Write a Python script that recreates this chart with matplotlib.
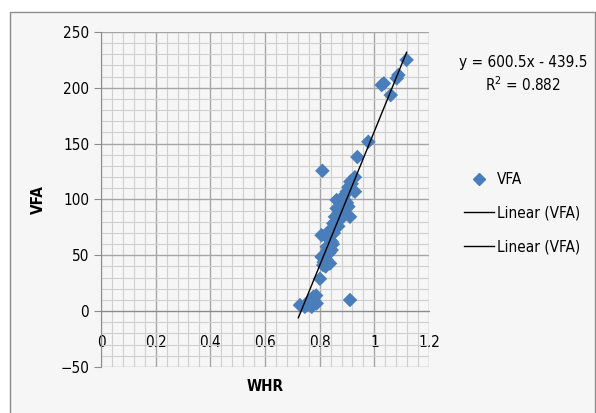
import matplotlib.pyplot as plt
import numpy as np
from matplotlib.patches import Rectangle
from matplotlib.lines import Line2D

plt.rcParams['font.family'] = ['DejaVu Sans']
plt.rcParams['font.stretch'] = 'condensed'

# WHR vs VFA readings
whr = [1.118, 1.088, 1.082, 1.035, 1.027, 1.060, 0.978, 0.938, 0.810,
       0.929, 0.917, 0.905, 0.899, 0.929, 0.887, 0.862, 0.905, 0.862,
       0.893, 0.911, 0.856, 0.850, 0.838, 0.807, 0.826, 0.838, 0.826,
       0.844, 0.807, 0.826, 0.813, 0.838, 0.801, 0.911, 0.777, 0.759,
       0.789, 0.728, 0.746, 0.771, 0.880, 0.870, 0.875, 0.890, 0.868,
       0.852, 0.845, 0.835, 0.820, 0.815, 0.895, 0.900, 0.912, 0.880,
       0.858, 0.848, 0.830, 0.822, 0.787, 0.765]
vfa = [225, 211.5, 208.5, 204, 202.5, 193.5, 151.7, 138, 125.7,
       120, 114, 111, 107, 107, 102.6, 99.5, 93.6, 92,
       87.5, 84.5, 84.5, 78.6, 72.6, 68, 66.6, 63.6, 57.6,
       54.7, 48.7, 45.7, 41.2, 42.7, 29, 10, 12.8, 8.3,
       6.9, 5.4, 3.9, 3.9, 96, 88, 82, 100, 76,
       70, 62, 52, 50, 44, 105, 97, 116, 90,
       80, 60, 55, 40, 14, 10]

slope, intercept = 600.5, -439.5
fit_x = np.array([0.722, 1.118])

fig = plt.figure(figsize=(5.96, 4.13), dpi=100)
fig.patches.append(Rectangle((10/596, -0.01), 585/596, (413-12)/413 + 0.01,
                             transform=fig.transFigure, facecolor='#f6f6f6',
                             edgecolor='#8c8c8c', linewidth=1.0, zorder=-1))

ax = fig.add_axes([101/596, 1 - 367/413, 328/596, 335/413])
ax.set_facecolor('#f6f6f6')

ax.set_xlim(0, 1.2)
ax.set_ylim(-50, 250)
ax.set_xticks(np.arange(0, 1.21, 0.2))
ax.set_xticklabels(['0', '0.2', '0.4', '0.6', '0.8', '1', '1.2'])
ax.set_yticks(np.arange(-50, 251, 50))
ax.set_xticks(np.arange(0, 1.2001, 0.04), minor=True)
ax.set_yticks(np.arange(-50, 251, 10), minor=True)
ax.grid(which='major', color='#a6a6a6', linewidth=1.0)
ax.grid(which='minor', color='#cfcfcf', linewidth=0.8)
ax.set_axisbelow(True)

for s in ['top', 'right']:
    ax.spines[s].set_visible(False)
ax.spines['left'].set_color('#8c8c8c')
ax.spines['bottom'].set_position(('data', 0))
ax.spines['bottom'].set_color('#8c8c8c')
ax.tick_params(axis='x', which='both', length=0, pad=17, labelsize=11)
ax.tick_params(axis='y', which='major', length=5, color='#8c8c8c', labelsize=11)
ax.tick_params(axis='y', which='minor', length=0)

ax.scatter(whr, vfa, marker='D', s=55, color='#4a7ebb', edgecolors='none',
           zorder=3, clip_on=False)
ax.plot(fit_x, slope * fit_x + intercept, color='black', linewidth=1.0, zorder=4)

ax.set_xlabel('WHR', fontsize=11, fontweight='bold', labelpad=0)
ax.xaxis.set_label_coords(0.5, -0.035)
ax.set_ylabel('VFA', fontsize=11, fontweight='bold', labelpad=10)

fig.text(523/596, 1 - 62/413, 'y = 600.5x - 439.5', ha='center', va='center', fontsize=11)
fig.text(523/596, 1 - 85/413, 'R$^2$ = 0.882', ha='center', va='center', fontsize=11)

handles = [Line2D([], [], marker='D', color='#4a7ebb', linestyle='none', markersize=6),
           Line2D([], [], color='black', linewidth=1.0),
           Line2D([], [], color='black', linewidth=1.0)]
fig.legend(handles, ['VFA', 'Linear (VFA)', 'Linear (VFA)'],
           loc='center left', bbox_to_anchor=(450/596, 1 - 213/413),
           frameon=False, fontsize=11, handlelength=2.0, handletextpad=0.2,
           labelspacing=1.22)

plt.savefig('out.png', dpi=100)
